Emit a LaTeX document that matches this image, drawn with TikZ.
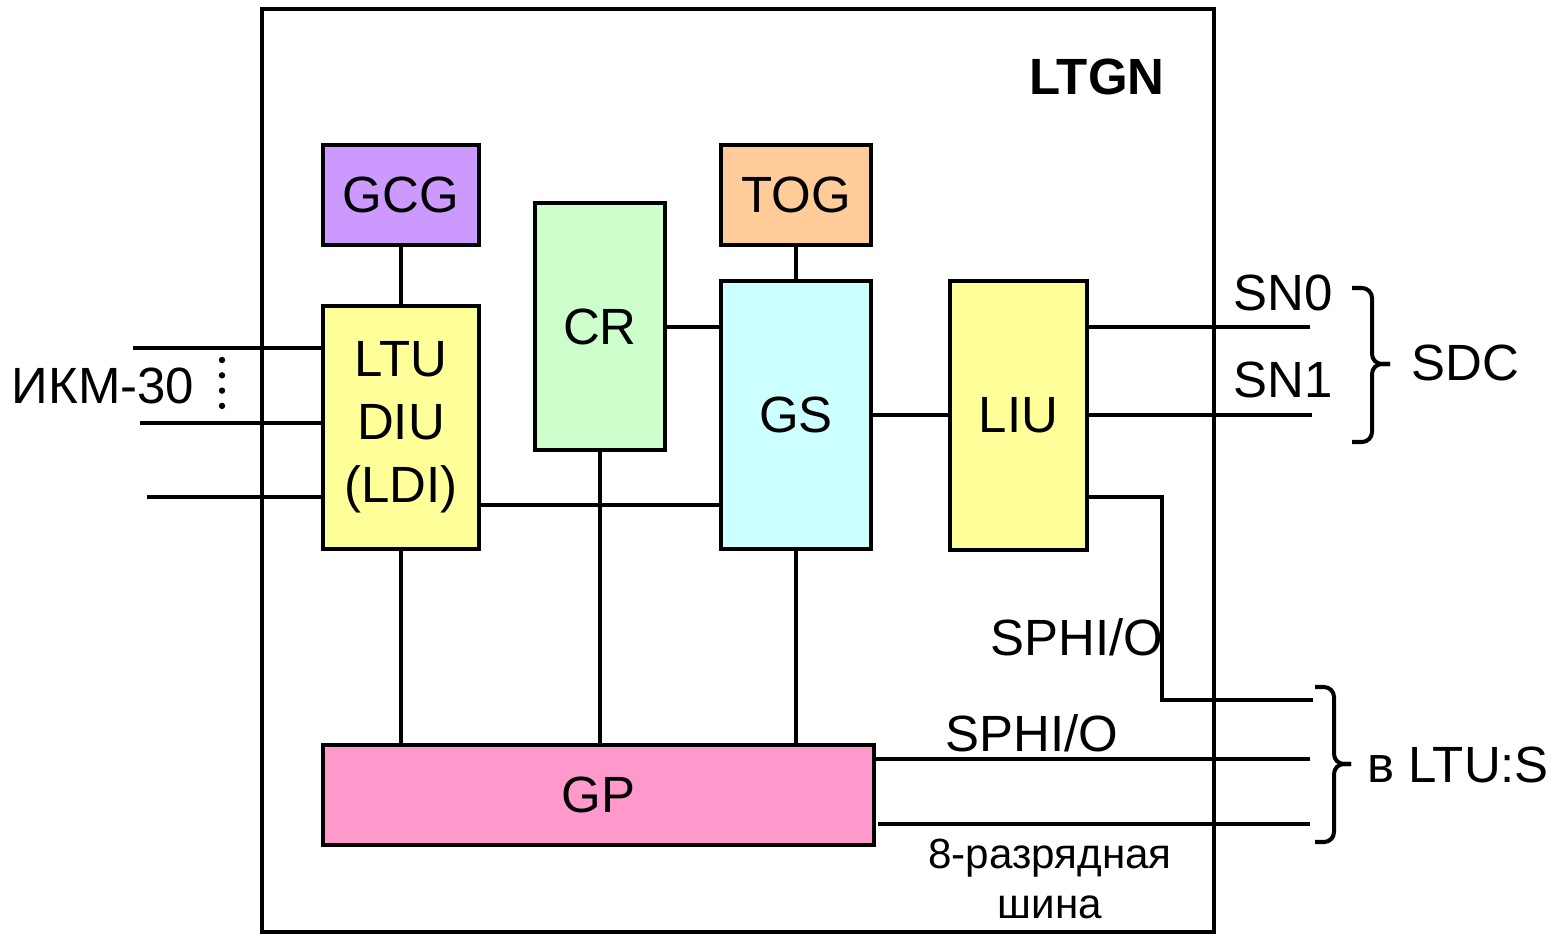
\documentclass[tikz,border=0pt]{standalone}
\usepackage{fontspec}
\setmainfont{Liberation Sans}

\definecolor{gcgcol}{HTML}{CC99FF}
\definecolor{togcol}{HTML}{FFCC99}
\definecolor{crcol}{HTML}{CCFFCC}
\definecolor{gscol}{HTML}{CCFFFF}
\definecolor{ltucol}{HTML}{FFFF99}
\definecolor{gpcol}{HTML}{FF99CC}

\tikzset{
    blk/.style={draw, line width=1.15pt, inner sep=0pt, align=center, font=\fontsize{14.5}{17.9}\selectfont},
    wire/.style={line width=1.15pt},
    lbl/.style={font=\fontsize{14.5}{17.9}\selectfont},
    small/.style={font=\fontsize{12}{14}\selectfont},
    brc/.style={line width=1.15pt, rounded corners=0.1cm},
}

\begin{document}
\begin{tikzpicture}
    \useasboundingbox (0,0) rectangle (15.62,-9.35);
    \draw[line width=0.9pt] (2.62,-0.09) rectangle (12.14,-9.32);
    \node[font=\fontsize{14.5}{17.9}\selectfont\bfseries] (title) at (10.97,-0.77) {LTGN};

    \node[blk, fill=gcgcol, minimum width=1.56cm, minimum height=1.00cm] (gcg) at (4.01,-1.95) {GCG};
    \node[blk, fill=ltucol, minimum width=1.56cm, minimum height=2.43cm] (ldi) at (4.01,-4.275) {LTU\\DIU\\(LDI)};
    \node[blk, fill=crcol, minimum width=1.30cm, minimum height=2.47cm] (cr) at (6.00,-3.265) {CR};
    \node[blk, fill=togcol, minimum width=1.50cm, minimum height=1.00cm] (tog) at (7.96,-1.95) {TOG};
    \node[blk, fill=gscol, minimum width=1.50cm, minimum height=2.68cm] (gs) at (7.96,-4.15) {GS};
    \node[blk, fill=ltucol, minimum width=1.37cm, minimum height=2.69cm] (liu) at (10.185,-4.155) {LIU};
    \node[blk, fill=gpcol, minimum width=5.51cm, minimum height=1.00cm] (gp) at (5.985,-7.95) {GP};

    \draw[wire] (gcg) -- (ldi);
    \draw[wire] (tog) -- (gs);
    \draw[wire] (cr.east |- 0,-3.27) -- (gs.west |- 0,-3.27);
    \draw[wire] (gs.east |- 0,-4.15) -- (liu.west |- 0,-4.15);
    \draw[wire] (ldi.east |- 0,-5.05) -- (gs.west |- 0,-5.05);
    \draw[wire] (ldi.south) -- (ldi.south |- gp.north);
    \draw[wire] (cr.south) -- (cr.south |- gp.north);
    \draw[wire] (gs.south) -- (gs.south |- gp.north);

    \coordinate (in0) at (1.33,-3.48);
    \coordinate (in1) at (1.40,-4.23);
    \coordinate (in2) at (1.47,-4.97);
    \draw[wire] (in0) -- (ldi.west |- in0);
    \draw[wire] (in1) -- (ldi.west |- in1);
    \draw[wire] (in2) -- (ldi.west |- in2);
    \node[lbl] (pcm) at (1.03,-3.86) {ИКМ-30};
    \foreach \i in {0,...,3}
        \fill (2.22,-3.60-0.153*\i) circle (0.032);

    \coordinate (sn0) at (13.10,-3.27);
    \coordinate (sn1) at (13.12,-4.15);
    \draw[wire] (liu.east |- sn0) -- (sn0);
    \draw[wire] (liu.east |- sn1) -- (sn1);
    \node[lbl] at (12.83,-2.93) {SN0};
    \node[lbl] at (12.83,-3.80) {SN1};
    \draw[brc] (13.52,-2.88) -| (13.72,-3.64) -- (13.90,-3.64);
    \draw[brc] (13.52,-4.42) -| (13.72,-3.64) -- (13.90,-3.64);
    \node[lbl] (sdc) at (14.65,-3.63) {SDC};

    \coordinate (out0) at (13.13,-7.00);
    \coordinate (out1) at (13.10,-7.59);
    \coordinate (out2) at (13.10,-8.24);
    \draw[wire] (liu.east |- 0,-4.97) -- (11.62,-4.97) |- (out0);
    \draw[wire] (gp.east |- out1) -- (out1);
    \draw[wire] ([xshift=0.02cm]gp.east |- out2) -- (out2);
    \node[lbl] at (10.77,-6.37) {SPHI/O};
    \node[lbl] at (10.32,-7.33) {SPHI/O};
    \draw[brc] (13.15,-6.87) -| (13.34,-7.64) -- (13.51,-7.64);
    \draw[brc] (13.15,-8.42) -| (13.34,-7.64) -- (13.51,-7.64);
    \node[lbl] (ltus) at (14.58,-7.65) {в LTU:S};

    \node[small] at (10.50,-8.58) {8-разрядная};
    \node[small] at (10.50,-9.07) {шина};
\end{tikzpicture}
\end{document}
